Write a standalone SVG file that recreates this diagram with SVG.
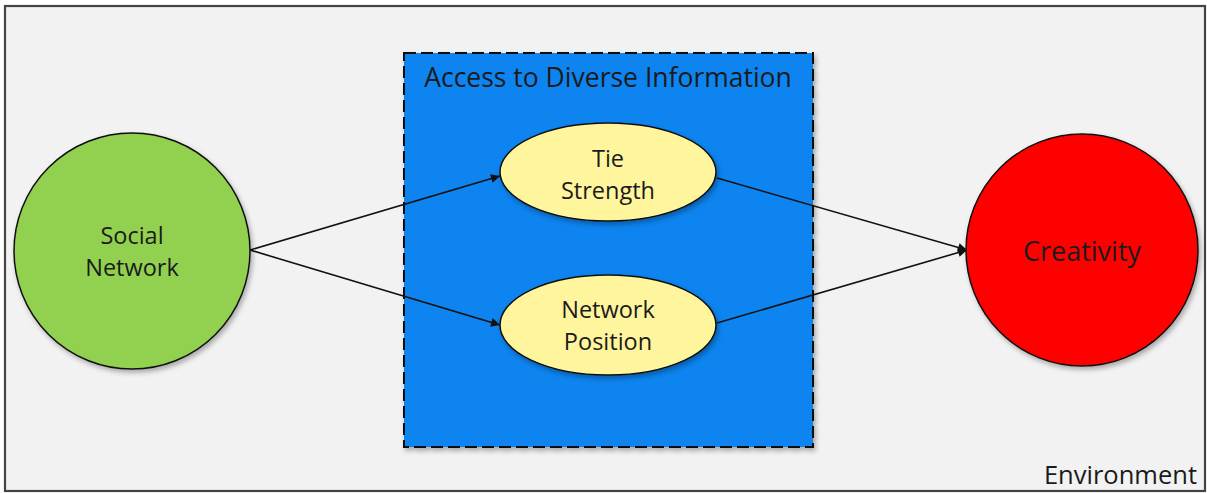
<svg xmlns="http://www.w3.org/2000/svg" width="1207" height="493" viewBox="0 0 1207 493">
  <style>
    .lbl { font-family: "Open Sans", "Liberation Sans", sans-serif; font-size: 23.5px; fill: #1b1b1b; text-anchor: middle; }
    .edge { stroke: #111; stroke-width: 1.6; fill: none; marker-end: url(#arrow); }
    .node { stroke: #111; stroke-width: 1.5; }
  </style>
  <defs>
    <marker id="arrow" viewBox="0 0 10 10" refX="10" refY="5" markerWidth="10" markerHeight="9" markerUnits="userSpaceOnUse" orient="auto">
      <path d="M0,0 L10,5 L0,10 z" fill="#111"/>
    </marker>
    <filter id="shadow" x="-10%" y="-10%" width="125%" height="125%">
      <feDropShadow dx="2" dy="3" stdDeviation="2.5" flood-color="#000" flood-opacity="0.3"/>
    </filter>
  </defs>

  <!-- environment frame -->
  <g id="environment">
    <rect x="5" y="6" width="1200" height="485" fill="#f2f2f2" stroke="#444" stroke-width="2.2"/>
    <text class="lbl" x="1197" y="484" style="text-anchor:end;font-size:25.5px">Environment</text>
  </g>

  <!-- dashed group box -->
  <g id="access">
    <rect x="404" y="53" width="409" height="394" fill="#0884f0" stroke="#111" stroke-width="2" stroke-dasharray="12 5" filter="url(#shadow)"/>
    <text class="lbl" x="608" y="87" style="font-size:26.5px">Access to Diverse Information</text>
  </g>

  <g id="connectors">
    <line class="edge" x1="250" y1="250" x2="500" y2="176"/>
    <line class="edge" x1="250" y1="250" x2="500" y2="325"/>
    <line class="edge" x1="717" y1="178" x2="967" y2="250"/>
    <line class="edge" x1="717" y1="323" x2="967" y2="250"/>
  </g>

  <g id="social-network">
    <circle class="node" cx="132" cy="251" r="118" fill="#92d050" filter="url(#shadow)"/>
    <text class="lbl" x="132" y="244">Social</text>
    <text class="lbl" x="132" y="276">Network</text>
  </g>

  <g id="tie-strength">
    <ellipse class="node" cx="608" cy="172" rx="108" ry="49" fill="#fff59d" filter="url(#shadow)"/>
    <text class="lbl" x="608" y="167">Tie</text>
    <text class="lbl" x="608" y="199">Strength</text>
  </g>

  <g id="network-position">
    <ellipse class="node" cx="608" cy="325" rx="108" ry="50" fill="#fff59d" filter="url(#shadow)"/>
    <text class="lbl" x="608" y="318">Network</text>
    <text class="lbl" x="608" y="350">Position</text>
  </g>

  <g id="creativity">
    <circle class="node" cx="1082" cy="250" r="116" fill="#ff0000" filter="url(#shadow)"/>
    <text class="lbl" x="1082" y="261" style="font-size:27px">Creativity</text>
  </g>
</svg>
